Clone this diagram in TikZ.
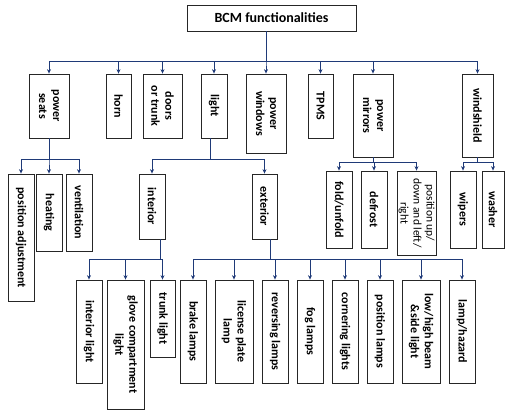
\documentclass[tikz,border=0pt]{standalone}
\usepackage{fontspec}
\setmainfont{Carlito}
\usetikzlibrary{arrows.meta}
\definecolor{linkblue}{RGB}{31,58,120}

\begin{document}
\begin{tikzpicture}[x=1pt, y=-1pt, >={Stealth[length=4.5pt,width=4pt]},
  func/.style={draw=black!85, line width=0.8pt, rotate=-90, inner sep=1pt,
    align=center, font=\bfseries\fontsize{12}{14}\selectfont},
  link/.style={->, draw=linkblue, line width=1pt}]

\useasboundingbox (0,0) rectangle (505,413);

\node [draw=black!85, line width=0.8pt, minimum width=169, minimum height=26,
  font=\bfseries\fontsize{14}{16}\selectfont] (root) at (271.5,18) {BCM functionalities};

% first level
\foreach \n/\t/\x/\w/\h in {seats/{power\\seats}/49/40/64, horn/{horn}/118.5/25/64,
    doors/{doors\\or trunk}/162.5/39/64, light/{light}/214/26/64,
    windows/{power\\windows}/266/40/79, tpms/{TPMS}/320.5/25/64,
    mirrors/{power\\mirrors}/373/40/83, windshield/{windshield}/477.5/31/83}
  \node [func, minimum width=\h, minimum height=\w] (\n) at (\x,{74+\h/2}) {\t};

% second level
\foreach \n/\t/\x/\w/\h in {posadj/{position adjustment}/21/26/127,
    heating/{heating}/49/26/77, ventilation/{ventilation}/79/26/77,
    interior/{interior}/152/26/65, exterior/{exterior}/264.5/25/65}
  \node [func, minimum width=\h, minimum height=\w] (\n) at (\x,{174+\h/2}) {\t};

\foreach \n/\t/\x/\w/\h in {fold/{fold/unfold}/339/26/77, defrost/{defrost}/374/26/77,
    wipers/{wipers}/463/26/77, washer/{washer}/493/22/77}
  \node [func, minimum width=\h, minimum height=\w] (\n) at (\x,{171+\h/2}) {\t};

\node [func, minimum width=84, minimum height=39, inner sep=0pt,
  font=\fontsize{11.5}{13}\selectfont]
  (updown) at (416.5,213) {position up/\\down and left/\\right};

% third level
\foreach \n/\t/\x/\w/\h in {intlight/{interior light}/89/26/103,
    glove/{glove compartment\\light}/125.5/37/129, trunklight/{trunk light}/162.5/25/77}
  \node [func, minimum width=\h, minimum height=\w] (\n) at (\x,{280+\h/2}) {\t};

\foreach \n/\t/\x/\w in {brake/{brake lamps}/193/26, license/{license plate\\lamp}/234/38,
    reversing/{reversing lamps}/275/26, fog/{fog lamps}/310/26,
    cornering/{cornering lights}/345/26, position/{position lamps}/380/26,
    lowhigh/{low/high beam\\\&side light}/421/38, hazard/{lamp/hazard}/462/26}
  \node [func, minimum width=103, minimum height=\w] (\n) at (\x,331.5) {\t};

% links
\foreach \n in {seats,horn,doors,light,windows,tpms,mirrors,windshield}
  \draw [link] (root.south) ++(-5.5,0) -- ++(0,30) -| (\n.west);

\foreach \n in {posadj,heating,ventilation}
  \draw [link] (seats.east) -- ++(0,21) -| (\n.west);

\foreach \n in {interior,exterior}
  \draw [link] (light.east) ++(-4,0) -- ++(0,21) -| (\n.west);

\foreach \n in {fold,defrost,updown}
  \draw [link] (mirrors.east) -- ++(0,5) -| (\n.west);

\foreach \n in {wipers,washer}
  \draw [link] (windshield.east) -- ++(0,5) -| (\n.west);

\foreach \n in {intlight,glove,trunklight}
  \draw [link] (interior.east) ++(8,0) -- ++(0,20) -| (\n.west);

\foreach \n in {brake,license,reversing,fog,cornering,position,lowhigh,hazard}
  \draw [link] (exterior.east) ++(5.5,0) -- ++(0,20) -| (\n.west);

\end{tikzpicture}
\end{document}
